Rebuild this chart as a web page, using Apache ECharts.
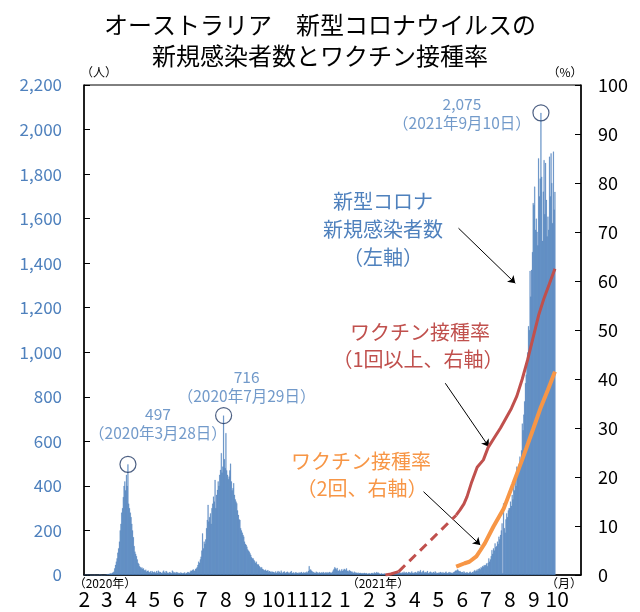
<!DOCTYPE html>
<html>
<head>
<meta charset="utf-8">
<script src="https://cdn.jsdelivr.net/npm/echarts@6/dist/echarts.min.js"></script>
<style>
  html, body { margin: 0; padding: 0; background: #fff; }
  #chart { width: 640px; height: 612px; }
</style>
</head>
<body>
<div id="chart"></div>
<script>
// Daily new COVID-19 cases in Australia, one array per month
const feb2020 = [0,0,1,1,0,0,1,0,0,0,0,0,0,0,0,0,0,0,0,0,3,0,0,0,0,0,0,0,2];
const mar2020 = [2,4,3,6,5,8,6,10,12,15,30,45,60,75,100,120,150,200,230,280,300,350,400,420,380,450,400,497,320,300,280];
const apr2020 = [260,230,200,170,130,105,95,85,70,55,50,40,35,30,34,28,30,22,20,24,15,18,20,14,12,17,10,18,14,12];
const may2020 = [15,10,12,18,10,20,15,12,14,10,8,15,20,12,10,18,15,10,8,12,14,10,8,20,15,10,12,8,14,10,12];
const jun2020 = [8,10,6,12,9,7,10,8,12,6,10,9,14,12,10,15,20,18,22,25,20,18,28,30,35,45,60,55,70,82];
const jul2020 = [110,187,120,150,140,160,210,247,315,240,260,277,230,300,320,352,330,427,300,360,382,420,400,450,472,547,460,487,716,520,480];
const aug2020 = [637,470,450,430,442,470,500,420,380,390,412,360,340,330,322,290,270,250,247,210,200,190,180,172,150,140,135,127,115,110,105];
const sep2020 = [97,90,80,75,75,68,62,55,60,50,45,48,40,35,30,35,28,25,22,20,24,18,20,22,15,18,14,16,12,15];
const oct2020 = [14,12,10,16,9,13,18,11,15,10,20,12,8,14,16,11,9,13,15,10,12,8,14,18,10,9,12,7,11,13,10];
const nov2020 = [10,8,12,9,11,14,10,8,13,9,12,10,15,11,18,40,22,25,20,16,12,14,10,9,15,12,11,8,13,10];
const dec2020 = [10,12,9,14,11,8,12,10,13,9,11,14,10,12,9,15,22,28,35,30,25,32,20,18,24,16,20,26,18,22,28];
const jan2021 = [25,22,30,18,20,15,22,18,14,16,12,10,15,9,12,10,8,11,7,9,10,8,6,9,7,10,8,6,9,5,7];
const feb2021 = [6,8,5,9,7,10,6,12,8,10,14,9,11,7,6,5,8,4,6,5,7,4,6,3,5,4,6,5];
const mar2021 = [4,6,5,8,6,10,7,9,12,8,10,14,9,11,8,12,10,15,9,11,13,8,10,14,12,9,11,16,10,8,12];
const apr2021 = [10,14,9,12,18,11,15,22,13,10,16,20,12,9,14,11,18,10,8,13,15,12,9,11,14,10,16,12,8,10];
const may2021 = [9,12,10,14,11,8,13,10,9,12,15,10,8,11,14,9,12,10,8,11,13,15,20,18,22,25,20,16,18,14,12];
const jun2021 = [14,10,16,12,9,11,13,10,8,12,15,11,9,14,12,18,22,16,20,25,18,28,30,25,35,32,40,38,45,40];
const jul2021 = [45,52,40,55,75,60,70,85,112,95,120,110,142,125,130,150,140,172,160,180,200,232,8,322,210,190,250,277,260,290,300];
const aug2021 = [300,330,310,360,340,412,380,430,400,487,450,470,500,532,510,560,680,650,720,780,862,900,967,1000,1117,1100,1365,1250,1370,1450,1670];
const sep2021 = [1661,1744,1550,1600,1541,1480,1871,1700,1780,2075,1788,1500,1721,1863,1620,1850,1684,1520,1609,1550,1878,1700,1893,1760,1580,1901,1640,1720];

const caseMonths = [
  ['2020-02', feb2020], ['2020-03', mar2020], ['2020-04', apr2020], ['2020-05', may2020],
  ['2020-06', jun2020], ['2020-07', jul2020], ['2020-08', aug2020], ['2020-09', sep2020],
  ['2020-10', oct2020], ['2020-11', nov2020], ['2020-12', dec2020], ['2021-01', jan2021],
  ['2021-02', feb2021], ['2021-03', mar2021], ['2021-04', apr2021], ['2021-05', may2021],
  ['2021-06', jun2021], ['2021-07', jul2021], ['2021-08', aug2021], ['2021-09', sep2021]
];

// Highlighted peak days
const peakDates = ['2020-03-28', '2020-07-29', '2021-09-10'];

// Vaccination rate (%), at least one dose
const dose1StartDates = ['2021-02-22', '2021-03-01', '2021-03-11'];
const dose1StartValues = [0, 0.2, 0.7];
const dose1GapDates = ['2021-03-11', '2021-05-24'];
const dose1GapValues = [0.7, 12.2];
const dose1Dates = ['2021-05-24','2021-05-29','2021-06-03','2021-06-07','2021-06-13','2021-06-20','2021-06-28','2021-07-04','2021-07-12','2021-07-20','2021-07-27','2021-08-03','2021-08-10','2021-08-17','2021-08-24','2021-08-31','2021-09-07','2021-09-14','2021-09-21','2021-09-28'];
const dose1Values = [12.2,13.3,14.5,16,19,22,23.5,26,28,30,32,34,36.5,40,44,48.5,53,56.5,59.5,62.5];

// Vaccination rate (%), two doses
const dose2Dates = ['2021-05-24','2021-06-04','2021-06-10','2021-06-19','2021-06-24','2021-06-30','2021-07-11','2021-07-24','2021-08-05','2021-08-18','2021-08-31','2021-09-10','2021-09-19','2021-09-28'];
const dose2Values = [1.7,2.4,2.7,3.8,5,6.5,9.9,13.5,18.5,24,29.8,34.3,37.8,41.5];

// Axis ranges
const axisStart = Date.UTC(2020, 1, 1);
const axisEnd = Date.UTC(2021, 9, 31);
const caseTicks = [0, 200, 400, 600, 800, 1000, 1200, 1400, 1600, 1800, 2000, 2200];
const rateTicks = [0, 10, 20, 30, 40, 50, 60, 70, 80, 90, 100];

const pad = n => (n < 10 ? '0' + n : '' + n);
const fmtDate = t => {
  const d = new Date(t);
  return d.getUTCFullYear() + '-' + pad(d.getUTCMonth() + 1) + '-' + pad(d.getUTCDate());
};

const categories = [];
for (let t = axisStart; t <= axisEnd; t += 86400000) categories.push(fmtDate(t));

const caseByDate = {};
caseMonths.forEach(([ym, arr]) => {
  arr.forEach((v, i) => { caseByDate[ym + '-' + pad(i + 1)] = v; });
});
const barData = categories.map(c => (c in caseByDate ? caseByDate[c] : null));

const pairs = (ds, vs) => ds.map((d, i) => [d, vs[i]]);
const addCommas = v => String(v).replace(/\B(?=(\d{3})+(?!\d))/g, ',');

const BLUE = '#4f81bd';
const RED = '#c0504d';
const ORANGE = '#f79646';
const FONT = '"Noto Sans CJK JP", "Noto Sans", sans-serif';

// Label offsets for each highlighted peak
const peakLabelOffsets = [[30, -41], [23, -29], [-79, 1]];
const peakData = peakDates.map((d, i) => {
  const [y, m, dd] = d.split('-').map(Number);
  return {
    value: [d, caseByDate[d]],
    label: {
      offset: peakLabelOffsets[i],
      formatter: '{v|' + addCommas(caseByDate[d]) + '}\n{d|（' + y + '年' + m + '月' + dd + '日）}'
    }
  };
});

const isMonthStart = (idx, val) => val.slice(8) === '01';

const chart = echarts.init(document.getElementById('chart'), null, { renderer: 'canvas' });

const textEl = (text, x, y, color, size) => ({
  type: 'text', x: x, y: y, silent: true,
  style: { text: text, fill: color, font: size + 'px ' + FONT, align: 'center', verticalAlign: 'middle' }
});

chart.setOption({
  animation: false,
  title: {
    text: 'オーストラリア　新型コロナウイルスの\n新規感染者数とワクチン接種率',
    left: 'center', top: 4,
    textStyle: { fontFamily: FONT, fontSize: 24, fontWeight: 'normal', color: '#000', lineHeight: 31 }
  },
  grid: { left: 84, right: 59, top: 85, bottom: 37, show: true, borderColor: '#000', borderWidth: 1 },
  xAxis: {
    type: 'category',
    data: categories,
    boundaryGap: true,
    axisLine: { lineStyle: { color: '#000', width: 1.5 } },
    axisTick: { inside: true, length: 6, interval: isMonthStart, lineStyle: { color: '#000', width: 1.5 } },
    axisLabel: {
      interval: isMonthStart,
      formatter: v => String(Number(v.slice(5, 7))),
      color: '#000', fontSize: 21, fontFamily: FONT, margin: 14
    },
    splitLine: { show: false }
  },
  yAxis: [
    {
      type: 'value', min: caseTicks[0], max: caseTicks[caseTicks.length - 1], interval: caseTicks[1] - caseTicks[0],
      axisLine: { show: true, lineStyle: { color: '#000', width: 1.5 } },
      axisTick: { show: true, inside: true, length: 6, lineStyle: { color: '#000' } },
      axisLabel: { color: BLUE, fontSize: 17, fontFamily: FONT, margin: 22, formatter: v => addCommas(v) },
      splitLine: { show: false }
    },
    {
      type: 'value', min: rateTicks[0], max: rateTicks[rateTicks.length - 1], interval: rateTicks[1] - rateTicks[0],
      position: 'right',
      axisLine: { show: true, lineStyle: { color: '#000', width: 1.5 } },
      axisTick: { show: true, inside: true, length: 6, lineStyle: { color: '#000' } },
      axisLabel: { color: '#000', fontSize: 18, fontFamily: FONT, margin: 17 },
      splitLine: { show: false }
    }
  ],
  series: [
    {
      name: '新規感染者数', type: 'bar', data: barData,
      barCategoryGap: '0%', barGap: '0%',
      itemStyle: { color: BLUE, borderColor: BLUE, borderWidth: 0.25 },
      silent: true,
      markLine: {
        silent: true, animation: false,
        symbol: ['none', 'arrow'], symbolSize: 7,
        label: { show: false },
        lineStyle: { color: '#000', width: 1, type: 'solid' },
        data: [
          [{ coord: ['2021-05-27', 1557] }, { coord: ['2021-08-08', 1310] }],
          [{ coord: ['2021-05-10', 861] }, { coord: ['2021-07-05', 576] }],
          [{ coord: ['2021-04-12', 374] }, { coord: ['2021-06-24', 135] }]
        ]
      }
    },
    {
      name: '1回以上', type: 'line', yAxisIndex: 1, data: pairs(dose1StartDates, dose1StartValues),
      showSymbol: false, silent: true, lineStyle: { color: RED, width: 3 }, z: 5
    },
    {
      name: '1回以上（補間）', type: 'line', yAxisIndex: 1, data: pairs(dose1GapDates, dose1GapValues),
      showSymbol: false, silent: true, lineStyle: { color: RED, width: 3, type: [9, 6] }, z: 5
    },
    {
      name: '1回以上', type: 'line', yAxisIndex: 1, data: pairs(dose1Dates, dose1Values),
      showSymbol: false, silent: true, lineStyle: { color: RED, width: 3 }, z: 5
    },
    {
      name: '2回', type: 'line', yAxisIndex: 1, data: pairs(dose2Dates, dose2Values),
      showSymbol: false, silent: true, lineStyle: { color: ORANGE, width: 4 }, z: 5
    },
    {
      name: 'ピーク', type: 'scatter', data: peakData,
      symbol: 'circle', symbolSize: 16, silent: true, z: 6,
      itemStyle: { color: 'rgba(0,0,0,0)', borderColor: '#203864', borderWidth: 1.2 },
      label: {
        show: true, position: 'inside', align: 'center', verticalAlign: 'middle',
        rich: {
          v: { fontSize: 15.5, color: BLUE, fontFamily: FONT, lineHeight: 19, align: 'center' },
          d: { fontSize: 15.5, color: BLUE, fontFamily: FONT, lineHeight: 19, align: 'center' }
        }
      }
    }
  ],
  graphic: [
    textEl('（人）', 99, 72, '#000', 12),
    textEl('（%）', 565, 72, '#000', 12),
    textEl('（2020年）', 105, 583, '#000', 12),
    textEl('（2021年）', 378, 583, '#000', 12),
    textEl('（月）', 564, 583, '#000', 12),
    textEl('新型コロナ', 383, 201, BLUE, 20),
    textEl('新規感染者数', 383, 229, BLUE, 20),
    textEl('（左軸）', 383, 257, BLUE, 20),
    textEl('ワクチン接種率', 420, 332, RED, 20),
    textEl('（1回以上、右軸）', 418, 359, RED, 20),
    textEl('ワクチン接種率', 361, 461, ORANGE, 20),
    textEl('（2回、右軸）', 362, 488, ORANGE, 20)
  ]
});
</script>
</body>
</html>
